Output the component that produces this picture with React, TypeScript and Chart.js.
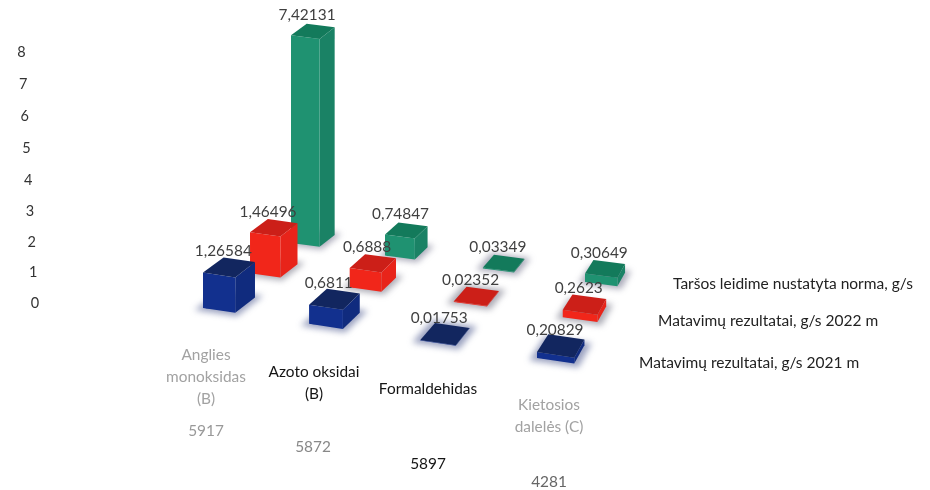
import React, { useEffect, useRef } from "react";
import { Chart, registerables } from "chart.js";

Chart.register(...registerables);

// ---- data ----
const categoryLines = [
  ["Anglies", "monoksidas", "(B)"],
  ["Azoto oksidai", "(B)"],
  ["Formaldehidas"],
  ["Kietosios", "dalelės (C)"],
];
const categoryCodes = ["5917", "5872", "5897", "4281"];
const values2021 = [1.26584, 0.6811, 0.01753, 0.20829];
const values2022 = [1.46496, 0.6888, 0.02352, 0.2623];
const valuesNorm = [7.42131, 0.74847, 0.03349, 0.30649];
const label2021 = "Matavimų rezultatai, g/s 2021 m";
const label2022 = "Matavimų rezultatai, g/s 2022 m";
const labelNorm = "Taršos leidime nustatyta norma, g/s";
const tickValues = [0, 1, 2, 3, 4, 5, 6, 7, 8];

// ---- layout of the 3D floor, in axis units ----
const floorFrontLeft = { x: 203, y: -0.16 };
const floorFrontRight = { x: 537, y: -1.75 };
const floorBackLeft = { x: 291, y: 1.91 };
const floorBackRight = { x: 585, y: 0.67 };
const barSpanU = 0.103;
const barSpanV = 0.21;
const elevation = 0.8924;
const xMax = 930;
const yMin = -5.96;
const yMax = 9.657;

const seriesStyles = [
  { left: "#12308e", right: "#102b7e", top: "#12265f", shadow: "rgba(55,70,130,0.5)" },
  { left: "#f1261a", right: "#e8241a", top: "#cc1f18", shadow: "rgba(90,90,110,0.5)" },
  { left: "#1f9271", right: "#1a8265", top: "#137a5b", shadow: "rgba(90,90,120,0.5)" },
];
const fontFamily = "Lato, 'Open Sans', sans-serif";
const legendAnchors = [
  { x: 639, y: 363 },
  { x: 658, y: 321 },
  { x: 673, y: 284 },
];
const categoryAnchors = [
  { x: 206, y: [355, 377, 399], codeX: 206, codeY: 431, color: "#a2a2a2", codeColor: "#999" },
  { x: 314, y: [372, 394], codeX: 313, codeY: 447, color: "#151515", codeColor: "#888" },
  { x: 428, y: [389], codeX: 428, codeY: 464, color: "#151515", codeColor: "#151515" },
  { x: 549, y: [405, 427], codeX: 549, codeY: 482, color: "#a2a2a2", codeColor: "#666" },
];

// Square-to-quad perspective mapping of the floor
function makeFloor() {
  const p0 = floorFrontLeft, p1 = floorFrontRight, p2 = floorBackRight, p3 = floorBackLeft;
  const dx1 = p1.x - p2.x, dx2 = p3.x - p2.x, sx = p0.x - p1.x + p2.x - p3.x;
  const dy1 = p1.y - p2.y, dy2 = p3.y - p2.y, sy = p0.y - p1.y + p2.y - p3.y;
  const den = dx1 * dy2 - dx2 * dy1;
  const g = (sx * dy2 - dx2 * sy) / den;
  const h = (dx1 * sy - sx * dy1) / den;
  const a = p1.x - p0.x + g * p1.x, b = p3.x - p0.x + h * p3.x, c = p0.x;
  const d = p1.y - p0.y + g * p1.y, e = p3.y - p0.y + h * p3.y, f = p0.y;
  return (u: number, v: number) => {
    const w = g * u + h * v + 1;
    return { x: (a * u + b * v + c) / w, y: (d * u + e * v + f) / w };
  };
}
const floor = makeFloor();
const cellU = (cat: number) => cat / (categoryLines.length - 1);
const cellV = (series: number) => series / 2;

function barPoint(cat: number, series: number, value: number) {
  const l = floor(cellU(cat), cellV(series));
  const fr = floor(cellU(cat) + barSpanU, cellV(series));
  return { x: (l.x + fr.x) / 2, y: [l.y, Math.max(l.y, fr.y + value * elevation)] };
}

function poly(ctx: CanvasRenderingContext2D, pts: { x: number; y: number }[], fill: string) {
  ctx.beginPath();
  pts.forEach((p, i) => (i ? ctx.lineTo(p.x, p.y) : ctx.moveTo(p.x, p.y)));
  ctx.closePath();
  ctx.fillStyle = fill;
  ctx.fill();
}

const boxPlugin = {
  id: "box3d",
  beforeDatasetDraw(chart: any, args: any) {
    const { ctx, scales } = chart;
    const series = args.index;
    const style = seriesStyles[series];
    const px = (p: { x: number; y: number }) => ({ x: scales.x.getPixelForValue(p.x), y: scales.y.getPixelForValue(p.y) });
    ctx.save();
    ctx.filter = "blur(3px)";
    categoryLines.forEach((_, cat) => {
      const u = cellU(cat), v = cellV(series);
      const m = 0.016, n = 0.035;
      poly(ctx, [
        px(floor(u - m, v - n)),
        px(floor(u + barSpanU + m, v - n)),
        px(floor(u + barSpanU + m, v + barSpanV + n)),
        px(floor(u - m, v + barSpanV + n)),
      ], style.shadow);
    });
    ctx.restore();
  },
  afterDatasetDraw(chart: any, args: any) {
    const { ctx, scales } = chart;
    const series = args.index;
    const style = seriesStyles[series];
    const values = chart.data.datasets[series].rawValues as number[];
    const px = (p: { x: number; y: number }, value = 0) => ({
      x: scales.x.getPixelForValue(p.x),
      y: scales.y.getPixelForValue(p.y + value * elevation),
    });
    values.forEach((value, cat) => {
      const u = cellU(cat), v = cellV(series);
      const L = floor(u, v), F = floor(u + barSpanU, v);
      const R = floor(u + barSpanU, v + barSpanV), A = floor(u, v + barSpanV);
      poly(ctx, [px(F), px(R), px(R, value), px(F, value)], style.right);
      poly(ctx, [px(L), px(F), px(F, value), px(L, value)], style.left);
      poly(ctx, [px(L, value), px(F, value), px(R, value), px(A, value)], style.top);
    });
  },
  afterDatasetsDraw(chart: any) {
    const { ctx, scales } = chart;
    ctx.save();
    ctx.textAlign = "center";
    ctx.textBaseline = "middle";
    // value labels above each box
    chart.data.datasets.forEach((ds: any, series: number) => {
      (ds.rawValues as number[]).forEach((value, cat) => {
        const u = cellU(cat), v = cellV(series);
        const c = floor(u + barSpanU / 2, v + barSpanV / 2);
        ctx.font = `15.4px ${fontFamily}`;
        ctx.fillStyle = "#3f3f3f";
        ctx.fillText(
          String(value).replace(".", ","),
          scales.x.getPixelForValue(c.x) - 6,
          scales.y.getPixelForValue(c.y + value * elevation) - 16
        );
      });
    });
    // value axis tick labels, leaning with the wall of the chart
    ctx.font = `14.5px ${fontFamily}`;
    ctx.fillStyle = "#333";
    tickValues.forEach((t) => {
      ctx.fillText(String(t), 35 - 1.7 * t, scales.y.getPixelForValue(t) + 0.16 * t * (8 - t));
    });
    // category labels
    categoryLines.forEach((lines, i) => {
      const a = categoryAnchors[i];
      ctx.font = `15.4px ${fontFamily}`;
      ctx.fillStyle = a.color;
      lines.forEach((line, j) => ctx.fillText(line, a.x, a.y[j]));
      ctx.fillStyle = a.codeColor;
      ctx.fillText(categoryCodes[i], a.codeX, a.codeY);
    });
    // series names
    ctx.textAlign = "left";
    ctx.font = `15.5px ${fontFamily}`;
    ctx.fillStyle = "#222";
    chart.data.datasets.forEach((ds: any, series: number) => {
      const a = legendAnchors[series];
      ctx.fillText(ds.label, a.x, a.y);
    });
    ctx.restore();
  },
};

export default function App() {
  const ref = useRef<HTMLCanvasElement>(null);
  useEffect(() => {
    const mk = (label: string, values: number[], series: number) => ({
      label,
      rawValues: values,
      data: values.map((v, cat) => barPoint(cat, series, v)),
      backgroundColor: seriesStyles[series].left,
      borderWidth: 0,
      barThickness: 26,
      grouped: false,
    });
    const chart = new Chart(ref.current as HTMLCanvasElement, {
      type: "bar",
      data: {
        datasets: [mk(label2021, values2021, 0), mk(label2022, values2022, 1), mk(labelNorm, valuesNorm, 2)] as any,
      },
      options: {
        responsive: false,
        animation: false,
        layout: { padding: 0 },
        plugins: { legend: { display: false }, tooltip: { enabled: false }, title: { display: false } },
        scales: {
          x: { type: "linear", min: 0, max: xMax, display: false, offset: false },
          y: { type: "linear", min: yMin, max: yMax, display: false },
        },
      },
      plugins: [boxPlugin],
    });
    return () => chart.destroy();
  }, []);
  return (
    <div style={{ position: "fixed", left: 0, top: 0, width: 930, height: 490, background: "#fff", overflow: "hidden" }}>
      <canvas ref={ref} width={930} height={490} style={{ display: "block", width: 930, height: 490, filter: "blur(0.5px)" }} />
    </div>
  );
}
